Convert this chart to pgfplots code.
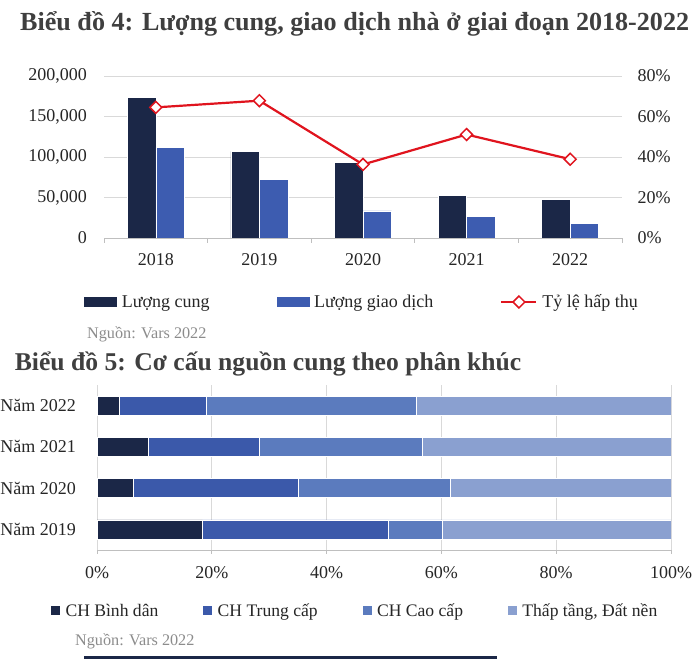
\documentclass[border=0pt]{standalone}
\usepackage{fontspec}
\setmainfont{Liberation Serif}
\usepackage{pgfplots}
\pgfplotsset{compat=1.18}
\definecolor{navy}{HTML}{1B2747}
\definecolor{midblue}{HTML}{3D5CB0}
\definecolor{bluea}{HTML}{3B59AA}
\definecolor{blueb}{HTML}{5B7BBE}
\definecolor{bluec}{HTML}{8AA0D0}
\definecolor{redl}{HTML}{E0141E}
\definecolor{gridc}{HTML}{D9D9D9}
\definecolor{axisc}{HTML}{BFBFBF}
\definecolor{titlec}{HTML}{3F3F3F}
\definecolor{srcc}{HTML}{8C8C8C}
\definecolor{tickc}{HTML}{262626}
\begin{document}
\begin{tikzpicture}[x=1pt,y=1pt]
\useasboundingbox (0pt,0pt) rectangle (700pt,660pt);
\fill[white] (0pt,0pt) rectangle (700pt,660pt);
\node[anchor=base west, inner sep=0, font=\fontsize{26.1}{30}\selectfont\bfseries, text=titlec] at (20pt,629.3pt) {Biểu đồ 4: Lượng cung, giao dịch nhà ở giai đoạn 2018-2022};
\node[anchor=base west, inner sep=0, font=\fontsize{25.6}{30}\selectfont\bfseries, text=titlec] at (14.7pt,289.3pt) {Biểu đồ 5: Cơ cấu nguồn cung theo phân khúc};
\node[anchor=base west, inner sep=0, font=\fontsize{16.2}{19}\selectfont, text=srcc] at (87pt,321pt) {Nguồn: Vars 2022};
\node[anchor=base west, inner sep=0, font=\fontsize{16.2}{19}\selectfont, text=srcc] at (75pt,15pt) {Nguồn: Vars 2022};
\draw[navy, line width=2.5pt] (84pt,2.5pt) -- (497pt,2.5pt);

% ---------- Chart 1 (left axis: bars) ----------
\begin{axis}[
  at={(104pt,422pt)}, anchor=south west, width=518pt, height=162pt, scale only axis,
  xmin=-0.5, xmax=4.5, ymin=0, ymax=200000,
  ybar=0pt, bar width=28.5pt,
  xtick={0,...,4}, xticklabels={2018,2019,2020,2021,2022},
  minor xtick={-0.5,0.5,...,4.5},
  ytick={0,50000,100000,150000,200000},
  scaled y ticks=false,
  yticklabel style={/pgf/number format/fixed, /pgf/number format/1000 sep={,}},
  /pgf/number format/assume math mode=true,
  axis x line*=bottom, axis y line*=left,
  x axis line style={axisc, line width=0.8pt, -},
  y axis line style={draw=none},
  major tick length=0pt, minor tick length=5pt, tick align=outside,
  tick style={axisc, line width=0.8pt},
  ymajorgrids, grid style={gridc, line width=0.8pt},
  tick label style={font=\fontsize{18}{20}\selectfont, text=tickc},
  xticklabel style={inner sep=0pt, anchor=north, yshift=-15.3pt},
  yticklabel style={inner sep=0pt, anchor=east, xshift=-17pt},
  legend columns=3,
  legend style={at={(-0.0386,-0.395)}, anchor=west, draw=none, fill=none, inner sep=0pt,
    font=\fontsize{18}{20}\selectfont, text=tickc,
    nodes={inner sep=0pt, anchor=west},
    /tikz/every odd column/.append style={column sep=5pt},
    /tikz/every even column/.append style={column sep=67pt}},
]
\addplot[fill=navy, draw=white, line width=0.6pt,
  legend image code/.code={\fill[navy] (0pt,-4.5pt) rectangle (32pt,4.5pt);}]
  coordinates {(0,173600) (1,106800) (2,93600) (3,52800) (4,47900)};
\addlegendentry{Lượng cung}
\addplot[fill=midblue, draw=white, line width=0.6pt,
  legend image code/.code={\fill[midblue] (0pt,-4.5pt) rectangle (32pt,4.5pt);}]
  coordinates {(0,111800) (1,72200) (2,33400) (3,26800) (4,18100)};
\addlegendentry{Lượng giao dịch}
\addlegendimage{legend image code/.code={
  \draw[redl, line width=2pt] (0pt,0pt) -- (35pt,0pt);
  \draw[redl, fill=white, line width=1.5pt, rotate around={45:(17.5pt,0pt)}] (13.3pt,-4.2pt) rectangle (21.7pt,4.2pt);}}
\addlegendentry{Tỷ lệ hấp thụ}
\end{axis}

% ---------- Chart 1 (right axis: line) ----------
\begin{axis}[
  at={(104pt,422pt)}, anchor=south west, width=518pt, height=162pt, scale only axis,
  xmin=-0.5, xmax=4.5, ymin=0, ymax=80,
  axis x line=none, axis y line*=right,
  y axis line style={draw=none},
  ytick={0,20,40,60,80},
  yticklabel={\pgfmathprintnumber[fixed]{\tick}\%},
  /pgf/number format/assume math mode=true,
  major tick length=0pt,
  tick label style={font=\fontsize{18}{20}\selectfont, text=tickc},
  yticklabel style={inner sep=0pt, anchor=west, xshift=15.5pt},
]
\addplot[redl, line width=2.2pt, mark=square*, mark size=4.2pt,
  mark options={fill=white, draw=redl, line width=1.5pt, rotate=45}]
  coordinates {(0,64.5) (1,67.8) (2,36.3) (3,51.1) (4,38.9)};
\end{axis}

% ---------- Chart 2 ----------
\begin{axis}[
  at={(97pt,110pt)}, anchor=south west, width=574pt, height=165pt, scale only axis,
  xbar stacked, bar width=19pt,
  xmin=0, xmax=100, ymin=-0.5, ymax=3.5,
  xtick={0,20,40,60,80,100},
  xticklabel={\pgfmathprintnumber[fixed]{\tick}\%},
  ytick={0,1,2,3}, yticklabels={Năm 2019,Năm 2020,Năm 2021,Năm 2022},
  /pgf/number format/assume math mode=true,
  axis x line*=bottom, axis y line*=left,
  x axis line style={axisc, line width=0.8pt, -},
  y axis line style={draw=none},
  xtick style={axisc, line width=0.8pt}, ytick style={draw=none},
  major tick length=4pt, tick align=outside,
  xmajorgrids, grid style={gridc, line width=0.8pt},
  tick label style={font=\fontsize{18}{20}\selectfont, text=tickc},
  xticklabel style={inner sep=0pt, anchor=north, yshift=-12.7pt},
  yticklabel style={inner sep=0pt, anchor=east, xshift=-17pt},
  legend columns=4,
  legend style={at={(-0.0801,-0.368)}, anchor=west, draw=none, fill=none, inner sep=0pt,
    font=\fontsize{17.6}{20}\selectfont, text=tickc,
    nodes={inner sep=0pt, anchor=west},
    /tikz/every odd column/.append style={column sep=5.7pt},
    /tikz/every even column/.append style={column sep=45pt}},
]
\addplot[fill=navy, draw=white, line width=0.6pt,
  legend image code/.code={\fill[navy] (0pt,-4pt) rectangle (8pt,4pt);}]
  coordinates {(18.3,0) (6.3,1) (8.9,2) (3.8,3)};
\addlegendentry{CH Bình dân}
\addplot[fill=bluea, draw=white, line width=0.6pt,
  legend image code/.code={\fill[bluea] (0pt,-4pt) rectangle (8pt,4pt);}]
  coordinates {(32.5,0) (28.7,1) (19.4,2) (15.2,3)};
\addlegendentry{CH Trung cấp}
\addplot[fill=blueb, draw=white, line width=0.6pt,
  legend image code/.code={\fill[blueb] (0pt,-4pt) rectangle (8pt,4pt);}]
  coordinates {(9.3,0) (26.6,1) (28.3,2) (36.6,3)};
\addlegendentry{CH Cao cấp}
\addplot[fill=bluec, draw=white, line width=0.6pt,
  legend image code/.code={\fill[bluec] (0pt,-4pt) rectangle (8pt,4pt);}]
  coordinates {(39.9,0) (38.4,1) (43.4,2) (44.4,3)};
\addlegendentry{Thấp tầng, Đất nền}
\end{axis}
\end{tikzpicture}
\end{document}
